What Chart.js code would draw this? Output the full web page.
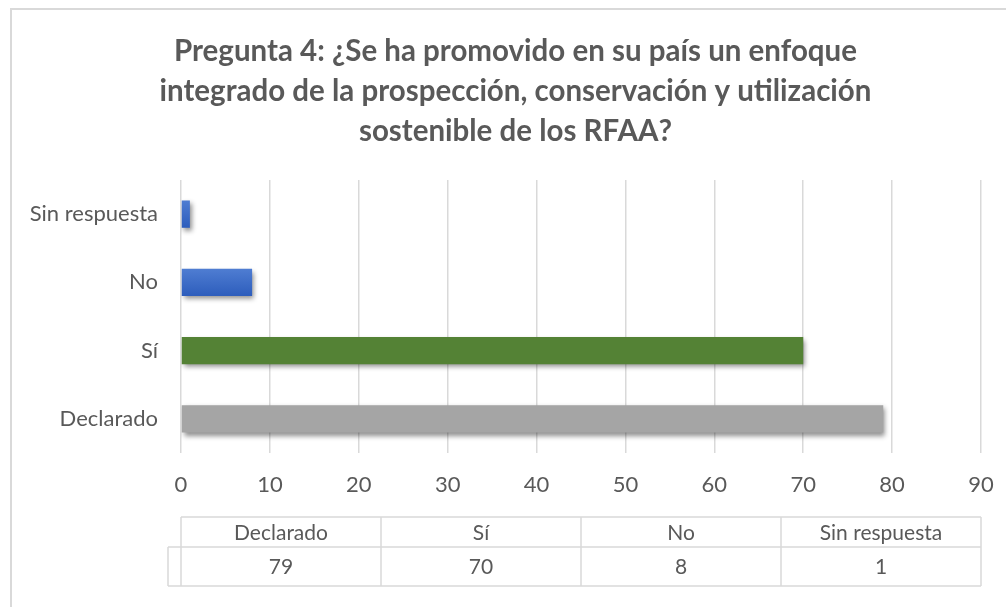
<!DOCTYPE html>
<html><head><meta charset="utf-8">
<script src="https://cdn.jsdelivr.net/npm/chart.js@4"></script>
<style>html,body{margin:0;padding:0;background:#fff;}#wrap{width:1006px;height:607px;position:relative;}</style>
</head><body><div id="wrap"><canvas id="c" width="1006" height="607"></canvas></div>
<script>
const titleLines = ['Pregunta 4: ¿Se ha promovido en su país un enfoque', 'integrado de la prospección, conservación y utilización', 'sostenible de los RFAA?'];
const categories = ['Declarado', 'Sí', 'No', 'Sin respuesta'];
const values = [79, 70, 8, 1];
const barColors = ['#a5a5a5', '#548235', '#3d6dc7', '#3d6dc7'];
const gradientBars = [false, false, true, true];
const xMin = 0, xMax = 90, xStep = 10;

const FONT = 'Lato, "Open Sans", sans-serif';
const TEXT = '#595959';
const LINE = '#d9d9d9';
const BAR_PCT = 0.4;

const framePlugin = {
  id: 'frame',
  afterLayout(chart) {
    const t = chart.titleBlock;
    if (t) { t.left += 20; t.right += 20; }
  },
  beforeDraw(chart) {
    const ctx = chart.ctx;
    ctx.save();
    ctx.fillStyle = '#fff';
    ctx.fillRect(0, 0, chart.width, chart.height);
    ctx.strokeStyle = LINE;
    ctx.lineWidth = 2;
    ctx.beginPath();
    ctx.moveTo(11, chart.height);
    ctx.lineTo(11, 9);
    ctx.lineTo(chart.width, 9);
    ctx.stroke();
    ctx.restore();
  }
};

const shadowPlugin = {
  id: 'barShadow',
  beforeDatasetsDraw(chart) {
    const ctx = chart.ctx;
    ctx.save();
    ctx.shadowColor = 'rgba(0,0,0,0.45)';
    ctx.shadowBlur = 5;
    ctx.shadowOffsetX = 2;
    ctx.shadowOffsetY = 3;
  },
  afterDatasetsDraw(chart) { chart.ctx.restore(); }
};

const tablePlugin = {
  id: 'dataTable',
  afterDraw(chart) {
    const ctx = chart.ctx;
    const a = chart.chartArea;
    const n = categories.length;
    const w = (a.right - a.left) / n;
    const top = a.bottom + 64, mid = top + 30, bot = mid + 39;
    const keyLeft = a.left - 13;
    ctx.save();
    ctx.strokeStyle = LINE;
    ctx.lineWidth = 1.5;
    ctx.beginPath();
    ctx.moveTo(a.left, top); ctx.lineTo(a.right, top);
    ctx.moveTo(keyLeft, mid); ctx.lineTo(a.right, mid);
    ctx.moveTo(keyLeft, bot); ctx.lineTo(a.right, bot);
    ctx.moveTo(keyLeft, mid); ctx.lineTo(keyLeft, bot);
    for (let i = 0; i <= n; i++) {
      const x = a.left + i * w;
      ctx.moveTo(x, top); ctx.lineTo(x, bot);
    }
    ctx.stroke();
    ctx.fillStyle = TEXT;
    ctx.font = '21px ' + FONT;
    ctx.textAlign = 'center';
    ctx.textBaseline = 'middle';
    for (let i = 0; i < n; i++) {
      const cx = a.left + (i + 0.5) * w;
      ctx.fillText(categories[i], cx, (top + mid) / 2 + 1);
      ctx.fillText(String(values[i]), cx, (mid + bot) / 2 + 1);
    }
    ctx.restore();
  }
};

function barFill(c) {
  const base = barColors[c.dataIndex];
  if (!gradientBars[c.dataIndex]) return base;
  const chart = c.chart, y = chart.scales && chart.scales.y, a = chart.chartArea;
  if (!y || !a) return base;
  const cy = y.getPixelForValue(c.dataIndex);
  const h = (a.bottom - a.top) / categories.length * BAR_PCT;
  const g = chart.ctx.createLinearGradient(0, cy - h / 2, 0, cy + h / 2);
  g.addColorStop(0, '#4f7dd2');
  g.addColorStop(1, '#2d5dbc');
  return g;
}

new Chart(document.getElementById('c'), {
  type: 'bar',
  data: {
    labels: categories,
    datasets: [{
      data: values,
      backgroundColor: barFill,
      borderWidth: 0,
      barPercentage: BAR_PCT,
      categoryPercentage: 1
    }]
  },
  plugins: [framePlugin, shadowPlugin, tablePlugin],
  options: {
    indexAxis: 'y',
    responsive: false,
    animation: false,
    devicePixelRatio: 1,
    layout: { padding: { left: 10, right: 25, top: 0, bottom: 104 } },
    plugins: {
      legend: { display: false },
      tooltip: { enabled: false },
      title: {
        display: true,
        text: titleLines,
        color: TEXT,
        font: { family: FONT, size: 29.5, weight: 'bold', lineHeight: 40 / 29.5 },
        padding: { top: 31, bottom: 29 }
      }
    },
    scales: {
      x: {
        min: xMin, max: xMax,
        ticks: { stepSize: xStep, color: TEXT, font: { family: FONT, size: 22 }, padding: 19 },
        grid: { color: LINE, lineWidth: 1.5, drawTicks: false },
        border: { display: false },
        afterFit(s) { s.height = 50; s.paddingRight = 0; s.paddingLeft = 0; }
      },
      y: {
        reverse: true,
        ticks: { color: TEXT, font: { family: FONT, size: 22 }, padding: 23 },
        grid: { display: false, drawTicks: false },
        border: { display: false },
        afterFit(s) { s.width = 171; }
      }
    }
  }
});
</script>
</body></html>
